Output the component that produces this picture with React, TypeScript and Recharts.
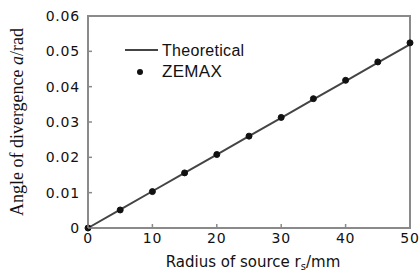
import { Line, ComposedChart, XAxis, YAxis, ReferenceArea } from "recharts";

const radius = [0, 5, 10, 15, 20, 25, 30, 35, 40, 45, 50];
const theoretical = [0, 0.0052, 0.0104, 0.0156, 0.0208, 0.026, 0.0312, 0.0364, 0.0416, 0.0468, 0.052];
const zemax = [0, 0.0051, 0.0103, 0.0156, 0.0208, 0.026, 0.0313, 0.0366, 0.0418, 0.047, 0.0524];
const xTicks = [0, 10, 20, 30, 40, 50];
const yTicks = [0, 0.01, 0.02, 0.03, 0.04, 0.05, 0.06];

const data = radius.map((r, i) => ({ r, theo: theoretical[i], zemax: zemax[i] }));

const AXIS = "#8a8a8a";
const FONT = "'Liberation Sans', Arial, sans-serif";
const TICK_FONT = "'DejaVu Sans', Verdana, sans-serif";

function XTick(props: any) {
  const { x, y, payload } = props;
  return (
    <g>
      <line x1={x} x2={x} y1={y - 2} y2={y - 6} stroke={AXIS} strokeWidth={1.5} />
      <text x={x} y={y + 13} textAnchor="middle" fontSize={14} letterSpacing={0.8} fontFamily={TICK_FONT} fill="#111">
        {payload.value}
      </text>
    </g>
  );
}

function YTick(props: any) {
  const { x, y, payload } = props;
  const v = payload.value === 0 ? "0" : payload.value.toFixed(2);
  return (
    <g>
      <line x1={x + 2} x2={x + 6} y1={y} y2={y} stroke={AXIS} strokeWidth={1.5} />
      <text x={x - 6} y={y + 5} textAnchor="end" fontSize={14} letterSpacing={0.8} fontFamily={TICK_FONT} fill="#111">
        {v}
      </text>
    </g>
  );
}

function LegendBox() {
  return (
    <svg width={140} height={50} style={{ position: "absolute", left: 120, top: 38 }}>
      <line x1={5} x2={38} y1={12} y2={12} stroke="#444" strokeWidth={2} />
      <text x={42} y={18} fontSize={16} letterSpacing={0.3} fontFamily={FONT} fill="#111">Theoretical</text>
      <circle cx={20} cy={34} r={3} fill="#111" />
      <text x={42} y={39} fontSize={17} letterSpacing={0.3} fontFamily={FONT} fill="#111">ZEMAX</text>
    </svg>
  );
}

export default function App() {
  return (
    <div style={{ position: "absolute", left: 0, top: 0, background: "#fff" }}>
      <ComposedChart
        width={419}
        height={273}
        data={data}
        margin={{ top: 16, right: 9, bottom: 0, left: 0 }}
      >
        <XAxis
          dataKey="r"
          type="number"
          domain={[0, 50]}
          ticks={xTicks}
          height={45}
          tickSize={0}
          tickMargin={2}
          stroke={AXIS}
          strokeWidth={2}
          tick={<XTick />}
          label={(p: any) => {
            const vb = p.viewBox;
            return (
              <text x={vb.x + vb.width / 2 + 4} y={vb.y + 39} textAnchor="middle" fontSize={15} fontFamily={TICK_FONT} fill="#111">
                Radius of source r<tspan fontSize={10} dy={3}>s</tspan><tspan dy={-3}>/mm</tspan>
              </text>
            );
          }}
        />
        <YAxis
          type="number"
          domain={[0, 0.06]}
          ticks={yTicks}
          width={88}
          tickSize={0}
          tickMargin={2}
          stroke={AXIS}
          strokeWidth={2}
          tick={<YTick />}
          label={() => (
            <text
              transform="translate(23,122) rotate(-90)"
              textAnchor="middle"
              fontSize={18}
              fontFamily="'Liberation Serif', 'Times New Roman', serif"
              fill="#111"
            >
              Angle of divergence <tspan fontStyle="italic">a</tspan>/rad
            </text>
          )}
        />
        <ReferenceArea
          x1={0}
          x2={50}
          y1={0}
          y2={0.06}
          fill="none"
          stroke={AXIS}
          strokeWidth={2}
          ifOverflow="extendDomain"
        />
        <Line
          dataKey="theo"
          stroke="#444"
          strokeWidth={2}
          dot={false}
          isAnimationActive={false}
        />
        <Line
          dataKey="zemax"
          stroke="none"
          dot={{ r: 3, fill: "#111", stroke: "#111" }}
          isAnimationActive={false}
        />
      </ComposedChart>
      <LegendBox />
    </div>
  );
}
